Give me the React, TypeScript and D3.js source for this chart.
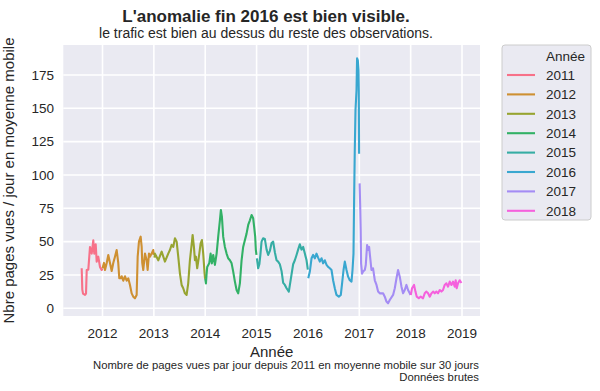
import React from "react"
import * as d3 from "d3"

// années affichées (hue) et palette husl à 8 couleurs
const annees = ["2011", "2012", "2013", "2014", "2015", "2016", "2017", "2018"]
const couleurs = ["#f77189", "#ce9032", "#97a431", "#32b166", "#36ada4", "#39a7d0", "#a48cf4", "#f561dd"]

// dates en années décimales, valeurs = pages vues / jour (moyenne mobile 30 j)
const t2011 = [2011.595, 2011.607, 2011.621, 2011.66, 2011.679, 2011.693, 2011.724, 2011.757, 2011.79, 2011.821, 2011.84, 2011.868, 2011.887, 2011.918, 2011.951, 2011.984, 2011.998]
const v2011 = [30, 14, 11, 10, 11, 28.7, 29, 46, 41, 51, 41, 48, 35, 38.7, 31, 28.7, 30]

const t2012 = [2012.0, 2012.029, 2012.049, 2012.082, 2012.113, 2012.146, 2012.179, 2012.21, 2012.243, 2012.276, 2012.307, 2012.327, 2012.354, 2012.374, 2012.405, 2012.438, 2012.471, 2012.502, 2012.535, 2012.568, 2012.599, 2012.632, 2012.665, 2012.685, 2012.71, 2012.743, 2012.763, 2012.774, 2012.794, 2012.813, 2012.827, 2012.86, 2012.879, 2012.905, 2012.924, 2012.957, 2012.988, 2012.998]
const v2012 = [30, 34, 28.7, 34, 40, 34, 28, 34, 38.7, 43.7, 34, 22.5, 22.5, 24, 20.7, 24, 20.7, 22.5, 17.5, 11.2, 8.7, 7.5, 10, 38.7, 50, 53.7, 46, 34, 28.7, 36, 41, 36, 28.7, 41, 38.7, 41, 43.7, 40]

const t2013 = [2013.012, 2013.021, 2013.086, 2013.152, 2013.216, 2013.28, 2013.313, 2013.346, 2013.377, 2013.411, 2013.444, 2013.475, 2013.508, 2013.541, 2013.572, 2013.605, 2013.638, 2013.669, 2013.702, 2013.735, 2013.755, 2013.78, 2013.8, 2013.819, 2013.844, 2013.877, 2013.911, 2013.936, 2013.961, 2013.988, 2013.998]
const v2013 = [38, 41, 36, 42.5, 35, 41, 43.7, 47.5, 46, 52.5, 50, 38.7, 26, 17.5, 15, 11.2, 10, 18.7, 36, 47.5, 55, 46, 36, 38.7, 30, 38.7, 48.7, 51.2, 41, 26, 22]

const t2014 = [2014.0, 2014.014, 2014.027, 2014.039, 2014.078, 2014.105, 2014.13, 2014.156, 2014.189, 2014.222, 2014.253, 2014.286, 2014.305, 2014.325, 2014.35, 2014.383, 2014.416, 2014.447, 2014.481, 2014.514, 2014.545, 2014.578, 2014.611, 2014.642, 2014.675, 2014.708, 2014.739, 2014.772, 2014.805, 2014.837, 2014.87, 2014.903, 2014.934, 2014.953, 2014.973, 2014.986, 2014.998]
const v2014 = [22, 18.7, 26, 31, 33.7, 41, 33.7, 40, 32.5, 41, 53.7, 66, 73.7, 68.7, 53.7, 46, 41, 37.5, 36, 33.7, 27.5, 20, 13.7, 11.2, 18.7, 36, 46, 51, 56, 62.5, 66, 70, 67.5, 61, 53.7, 43.7, 40]

const t2015 = [2015.006, 2015.031, 2015.054, 2015.074, 2015.097, 2015.128, 2015.161, 2015.195, 2015.226, 2015.259, 2015.292, 2015.323, 2015.356, 2015.389, 2015.42, 2015.453, 2015.486, 2015.518, 2015.551, 2015.584, 2015.628, 2015.667, 2015.712, 2015.745, 2015.778, 2015.809, 2015.842, 2015.875, 2015.907, 2015.94, 2015.973, 2015.998]
const v2015 = [37.5, 30, 33, 40, 50, 52.5, 52, 44, 40, 43, 49, 50, 42, 36, 35, 33, 28, 19, 17.5, 15, 12.5, 22, 33, 36, 40, 44, 48, 44, 46, 41, 36, 29]

const t2016 = [2016.006, 2016.037, 2016.07, 2016.101, 2016.134, 2016.167, 2016.198, 2016.232, 2016.265, 2016.296, 2016.329, 2016.362, 2016.393, 2016.426, 2016.459, 2016.49, 2016.523, 2016.556, 2016.601, 2016.64, 2016.665, 2016.693, 2016.718, 2016.751, 2016.782, 2016.815, 2016.848, 2016.868, 2016.887, 2016.899, 2016.912, 2016.926, 2016.946, 2016.957, 2016.971, 2016.984, 2016.99, 2016.996]
const v2016 = [22.5, 27.5, 37.5, 40, 37.5, 41, 38, 35, 37.5, 33.7, 36, 32.5, 31, 30, 28.7, 21, 15, 10, 8.7, 10, 18.7, 28.7, 35, 28.7, 23.7, 21, 20, 28.7, 41, 81, 118.7, 148.7, 163.7, 187.5, 186, 178.7, 163.7, 116]

const t2017 = [2017.006, 2017.018, 2017.027, 2017.035, 2017.054, 2017.074, 2017.107, 2017.126, 2017.152, 2017.171, 2017.191, 2017.21, 2017.237, 2017.268, 2017.302, 2017.335, 2017.366, 2017.399, 2017.463, 2017.496, 2017.529, 2017.56, 2017.593, 2017.658, 2017.691, 2017.724, 2017.755, 2017.788, 2017.821, 2017.852, 2017.885, 2017.918, 2017.949, 2017.982, 2017.998]
const v2017 = [93.7, 76, 58.7, 33.7, 26, 27.5, 28.7, 32.5, 47.5, 43.7, 46, 38.7, 28.7, 30, 21, 17.5, 12.5, 11.2, 11.2, 8.7, 5, 3.7, 6.2, 10, 15, 22.5, 28.7, 23.7, 16.2, 11.2, 13.7, 17.5, 13.7, 11.2, 10]

const t2018 = [2018.002, 2018.027, 2018.066, 2018.093, 2018.119, 2018.158, 2018.196, 2018.241, 2018.274, 2018.307, 2018.339, 2018.372, 2018.405, 2018.436, 2018.469, 2018.502, 2018.533, 2018.566, 2018.599, 2018.63, 2018.663, 2018.696, 2018.728, 2018.761, 2018.794, 2018.825, 2018.858, 2018.877, 2018.897, 2018.922, 2018.955, 2018.988]
const v2018 = [10, 15, 17.5, 12.5, 8.7, 7.5, 8.7, 7.5, 11.2, 12.5, 11.2, 8.7, 11.2, 12.5, 11.2, 12.5, 11.2, 13.7, 12.5, 13.7, 17.5, 18.7, 16.2, 20, 17.5, 20, 16.2, 21, 15, 18.7, 21, 19]

const yTicks = [0, 25, 50, 75, 100, 125, 150, 175]
const xTicks = [2012, 2013, 2014, 2015, 2016, 2017, 2018, 2019]

const series = [
  [t2011, v2011], [t2012, v2012], [t2013, v2013], [t2014, v2014],
  [t2015, v2015], [t2016, v2016], [t2017, v2017], [t2018, v2018],
].map(([t, v], i) => ({ annee: annees[i], color: couleurs[i], pts: t.map((d, j) => [d, v[j]]) }))

const W = 600, H = 391
const plot = { left: 63.3, right: 480, top: 45, bottom: 316 }
const font = "'Liberation Sans', Arial, sans-serif"
const ink = "#262626"

export default function App() {
  const x = d3.scaleLinear().domain([2011.237, 2019.35]).range([plot.left, plot.right])
  const y = d3.scaleLinear().domain([-5.8, 197.5]).range([plot.bottom, plot.top])
  const line = d3.line<number[]>().x(d => x(d[0])).y(d => y(d[1]))
  const cx = (plot.left + plot.right) / 2

  return (
    <svg width={W} height={H} style={{ position: "absolute", left: 0, top: 0, background: "#fff" }} fontFamily={font}>
      {/* fond seaborn darkgrid */}
      <rect x={plot.left} y={plot.top} width={plot.right - plot.left} height={plot.bottom - plot.top} fill="#eaeaf2" />
      {yTicks.map(t => (
        <line key={"gy" + t} x1={plot.left} x2={plot.right} y1={y(t)} y2={y(t)} stroke="#fff" strokeWidth={1.6} />
      ))}
      {xTicks.map(t => (
        <line key={"gx" + t} x1={x(t)} x2={x(t)} y1={plot.top} y2={plot.bottom} stroke="#fff" strokeWidth={1.6} />
      ))}

      {series.map(s => (
        <path key={s.annee} d={line(s.pts) || ""} fill="none" stroke={s.color} strokeWidth={2.1} strokeLinejoin="round" />
      ))}

      {/* axes */}
      {yTicks.map(t => (
        <text key={"ty" + t} x={54} y={y(t)} dy="0.35em" textAnchor="end" fontSize={13.5} fill={ink}>{t}</text>
      ))}
      {xTicks.map(t => (
        <text key={"tx" + t} x={x(t)} y={338} textAnchor="middle" fontSize={13.5} fill={ink}>{t}</text>
      ))}
      <text x={cx} y={357} textAnchor="middle" fontSize={15} fill={ink}>Année</text>
      <text transform={`translate(14,${(plot.top + plot.bottom) / 2}) rotate(-90)`} textAnchor="middle" fontSize={15} fill={ink}>
        Nbre pages vues / jour en moyenne mobile
      </text>

      {/* titres */}
      <text x={266} y={22} textAnchor="middle" fontSize={17} fontWeight="bold" fill={ink}>L'anomalie fin 2016 est bien visible.</text>
      <text x={266} y={38} textAnchor="middle" fontSize={14} fill={ink}>le trafic est bien au dessus du reste des observations.</text>

      {/* notes */}
      <text x={479} y={369} textAnchor="end" fontSize={11.3} fill={ink}>Nombre de pages vues par jour depuis 2011 en moyenne mobile sur 30 jours</text>
      <text x={479} y={381} textAnchor="end" fontSize={11.3} fill={ink}>Données brutes</text>

      {/* légende */}
      <rect x={502} y={45} width={89} height={175} rx={3} fill="#eaeaf2" stroke="#cccccc" />
      <text x={546} y={56.7} dy="0.35em" fontSize={13.5} fill={ink}>Année</text>
      {series.map((s, i) => (
        <g key={"lg" + s.annee} transform={`translate(0,${75 + i * 19.4})`}>
          <line x1={507} x2={535} y1={0} y2={0} stroke={s.color} strokeWidth={2.1} />
          <text x={546} y={0} dy="0.35em" fontSize={13.5} fill={ink}>{s.annee}</text>
        </g>
      ))}
    </svg>
  )
}
